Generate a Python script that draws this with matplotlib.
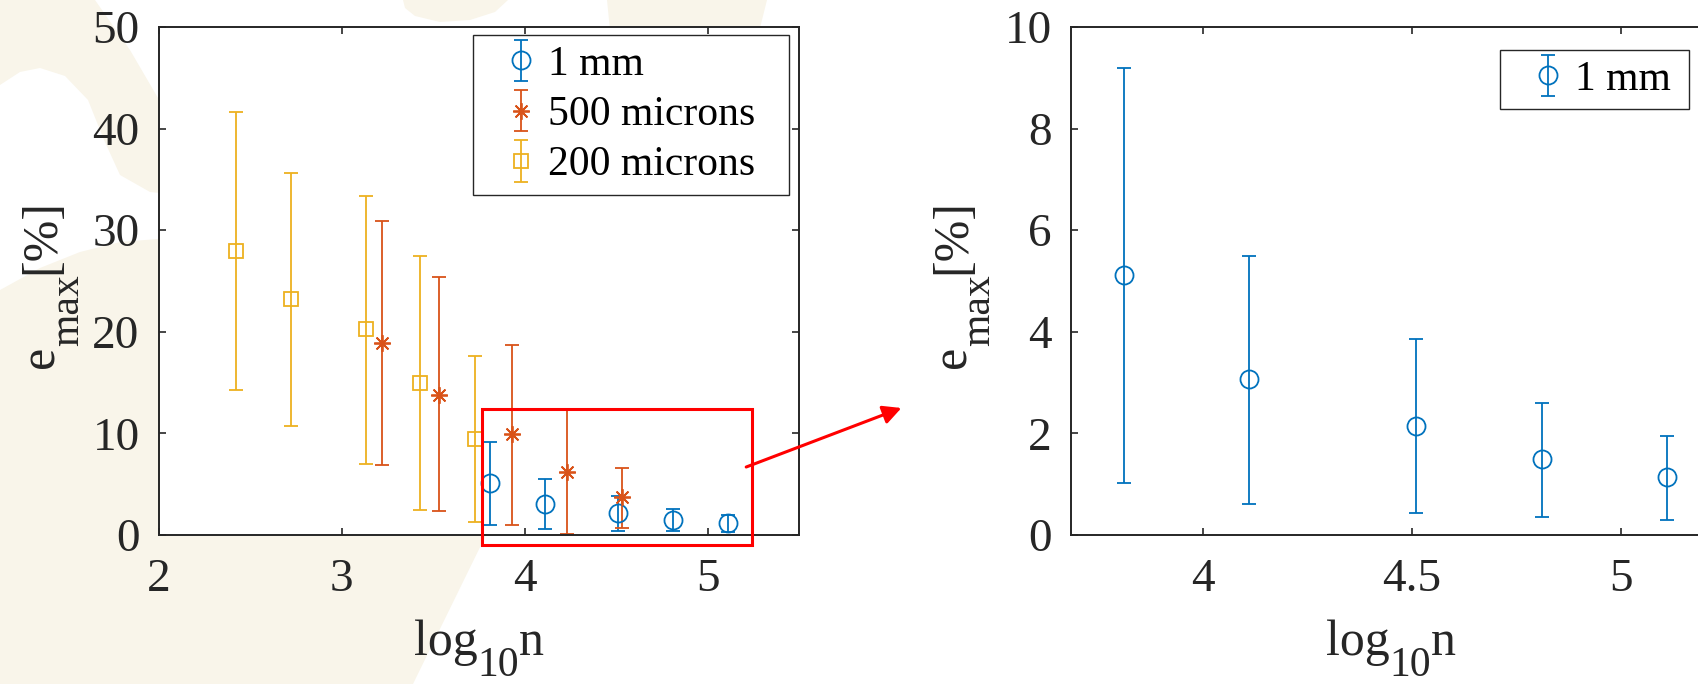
import matplotlib
matplotlib.use("Agg")
import matplotlib.pyplot as plt
import numpy as np
from matplotlib.patches import Rectangle, Polygon, FancyArrowPatch
from matplotlib.transforms import IdentityTransform

plt.rcParams['font.family'] = 'Liberation Serif'

# data
x_1mm = [3.81, 4.11, 4.51, 4.81, 5.11]
e_1mm = [5.12, 3.07, 2.15, 1.50, 1.14]
hi_1mm = [9.19, 5.49, 3.85, 2.60, 1.94]
lo_1mm = [1.03, 0.62, 0.43, 0.35, 0.30]

x_500 = [3.22, 3.53, 3.93, 4.23, 4.53]
e_500 = [18.9, 13.8, 9.9, 6.25, 3.7]
hi_500 = [30.9, 25.4, 18.75, 12.4, 6.55]
lo_500 = [6.9, 2.35, 0.95, 0.05, 0.7]

x_200 = [2.42, 2.72, 3.13, 3.43, 3.73]
e_200 = [27.95, 23.2, 20.25, 15.0, 9.4]
hi_200 = [41.65, 35.65, 33.4, 27.45, 17.65]
lo_200 = [14.3, 10.75, 7.0, 2.5, 1.3]

blue = '#0072BD'
orange = '#D95319'
yellow = '#EDB120'
dark = '#262626'

W, H = 1699, 684
fig = plt.figure(figsize=(W / 100, H / 100), dpi=100)


def fx(px, py):
    return (px / W, 1 - py / H)


# faint watermark in the background
beige = '#f9f5ea'
bg = [
    [(0, 0), (95, 0), (130, 50), (165, 110), (600, 300), (486, 535), (413, 684), (0, 684)],
    [(403, 0), (508, 0), (495, 12), (470, 20), (440, 22), (415, 16), (405, 8)],
    [(607, 0), (767, 0), (757, 40), (611, 40)],
]
for poly in bg:
    fig.add_artist(Polygon([fx(*p) for p in poly], closed=True, transform=fig.transFigure,
                           facecolor=beige, edgecolor='none', zorder=-2))
hole = [(0, 85), (20, 72), (40, 68), (65, 76), (88, 100), (104, 140), (120, 175), (150, 192),
        (170, 194), (170, 238), (120, 242), (80, 252), (40, 268), (0, 290)]
fig.add_artist(Polygon([fx(*p) for p in hole], closed=True, transform=fig.transFigure,
                       facecolor='white', edgecolor='none', zorder=-1))

ax1 = fig.add_axes([159 / W, 149 / H, 640 / W, 508 / H])
ax2 = fig.add_axes([1071 / W, 149 / H, 641 / W, 508 / H])


def errs(e, lo, hi):
    e = np.array(e)
    return [e - np.array(lo), np.array(hi) - e]


kw = dict(linestyle='none', capsize=5.3, elinewidth=1.3, capthick=1.3,
          markeredgewidth=1.3, mfc='none')
ax1.errorbar(x_1mm, e_1mm, yerr=errs(e_1mm, lo_1mm, hi_1mm), marker='o', ms=13,
             color=blue, label='1 mm', **kw)
ax1.errorbar(x_500, e_500, yerr=errs(e_500, lo_500, hi_500), marker=(8, 2, 0), ms=12,
             color=orange, label='500 microns', **kw)
ax1.errorbar(x_200, e_200, yerr=errs(e_200, lo_200, hi_200), marker='s', ms=10,
             color=yellow, label='200 microns', **kw)

ax2.errorbar(x_1mm, e_1mm, yerr=errs(e_1mm, lo_1mm, hi_1mm), marker='o', ms=13,
             color=blue, label='1 mm', **kw)

ax1.set_xlim(2, 5.5)
ax1.set_ylim(0, 50)
ax1.set_xticks([2, 3, 4, 5])
ax1.set_yticks([0, 10, 20, 30, 40, 50])

ax2.set_xlim(3.684, 5.218)
ax2.set_ylim(0, 10)
ax2.set_xticks([4, 4.5, 5])
ax2.set_xticklabels(['4', '4.5', '5'])
ax2.set_yticks([0, 2, 4, 6, 8, 10])

for ax in (ax1, ax2):
    ax.tick_params(direction='in', length=5, width=1.2, top=True, right=True,
                   labelsize=34, colors=dark)
    ax.tick_params(axis='x', pad=17)
    ax.tick_params(axis='y', pad=14)
    for s in ax.spines.values():
        s.set_linewidth(1.4)
        s.set_color(dark)

legkw = dict(fontsize=30, frameon=True, fancybox=False, framealpha=1, borderaxespad=0,
             labelspacing=0.28, borderpad=0.25, handlelength=1.8, handletextpad=-0.25,
             bbox_transform=fig.transFigure, loc='upper left', mode='expand')
l1 = ax1.legend(bbox_to_anchor=(473 / W, 1 - 194 / H, 316 / W, 159 / H), **legkw)
l2 = ax2.legend(bbox_to_anchor=(1500 / W, 1 - 107 / H, 189 / W, 57 / H), **legkw)
for lg in (l1, l2):
    lg.get_frame().set_edgecolor(dark)
    lg.get_frame().set_linewidth(1.0)

# axis labels with a deep subscript, built piece by piece (pixel positions)
renderer = fig.canvas.get_renderer()


def label(pieces, x, y, vertical=False):
    # x, y: centre along the text and baseline, in image pixels from the top-left
    texts = []
    for s, size, drop in pieces:
        t = fig.text(0, 0, s, fontsize=size, color=dark, ha='left', va='baseline',
                     rotation=90 if vertical else 0, rotation_mode='anchor',
                     transform=IdentityTransform())
        bb = t.get_window_extent(renderer)
        texts.append((t, bb.height if vertical else bb.width, drop))
    total = sum(n for _, n, _ in texts)
    if vertical:
        pos = (H - y) - total / 2
        for t, n, drop in texts:
            t.set_position((x + drop, pos))
            pos += n
    else:
        pos = x - total / 2
        for t, n, drop in texts:
            t.set_position((pos, (H - y) - drop))
            pos += n


xl = [('log', 36, 0), ('10', 30, 21), ('n', 36, 0)]
yl = [('e', 36, 0), ('max', 30, 24), ('[%]', 36, 0)]
label(xl, 479, 655)
label(xl, 1391, 655)
label(yl, 54, 284, vertical=True)
label(yl, 965, 284, vertical=True)

# zoom box and arrow
ax1.add_patch(Rectangle((3.764, -0.98), 5.242 - 3.764, 12.44 + 0.98, fill=False,
                        edgecolor='red', linewidth=2.2, clip_on=False, zorder=5))
fig.add_artist(FancyArrowPatch(fx(743.6, 468), fx(904, 407), transform=fig.transFigure,
                               arrowstyle='-|>,head_length=0.55,head_width=0.28',
                               mutation_scale=20, color='red', linewidth=2.2, zorder=5))

fig.savefig('out.png', dpi=100)
